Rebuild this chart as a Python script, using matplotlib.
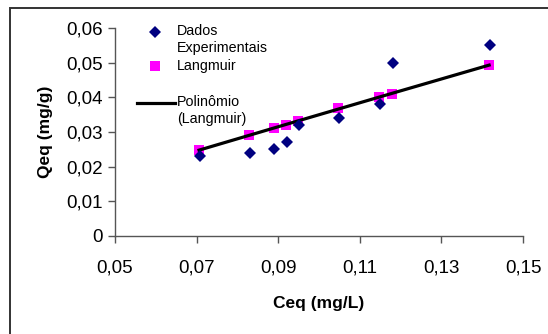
import numpy as np
import matplotlib
matplotlib.use("Agg")
import matplotlib.pyplot as plt
from matplotlib.patches import Rectangle
from matplotlib.lines import Line2D
from matplotlib.ticker import FuncFormatter

plt.rcParams['font.family'] = ['Liberation Sans', 'DejaVu Sans']

# Data
ceq_exp = [0.0708, 0.0831, 0.0890, 0.0922, 0.0951, 0.1049, 0.1150, 0.1181, 0.1419]
qeq_exp = [0.023, 0.024, 0.025, 0.027, 0.032, 0.034, 0.038, 0.050, 0.055]
ceq_lang = [0.0706, 0.0829, 0.0890, 0.0919, 0.0949, 0.1047, 0.1147, 0.1179, 0.1417]
qeq_lang = [0.0248, 0.0291, 0.0311, 0.0320, 0.0332, 0.0369, 0.0401, 0.0410, 0.0493]
x_ticks = [0.05, 0.07, 0.09, 0.11, 0.13, 0.15]
y_ticks = [0, 0.01, 0.02, 0.03, 0.04, 0.05, 0.06]

W, H = 548, 334
fig = plt.figure(figsize=(W / 100, H / 100), dpi=100)
ax = fig.add_axes([115 / W, 1 - 236 / H, (523 - 115) / W, (236 - 28) / H])

# outer frame
fig.patches.append(Rectangle((10 / W, -0.05), 1.1, 1 - 8.5 / H + 0.05, transform=fig.transFigure,
                             fill=False, edgecolor='#333333', linewidth=1.4, clip_on=False))

# trendline (polynomial through Langmuir points)
coef = np.polyfit(ceq_lang, qeq_lang, 2)
xs = np.linspace(min(ceq_lang), max(ceq_lang), 200)
ax.plot(xs, np.polyval(coef, xs), color='black', lw=2.3, zorder=3)

ax.plot(ceq_lang, qeq_lang, linestyle='none', marker='s', markersize=6.8,
        color='#FF00FF', markeredgewidth=0, zorder=2)
ax.plot(ceq_exp, qeq_exp, linestyle='none', marker='D', markersize=6.5,
        color='#000080', markeredgewidth=0, zorder=4)

ax.set_xlim(0.05, 0.15)
ax.set_ylim(0, 0.06)
ax.set_xticks(x_ticks)
ax.set_yticks(y_ticks)
fmt = FuncFormatter(lambda v, p: ('0' if abs(v) < 1e-12 else f'{v:.2f}'.replace('.', ',')))
ax.xaxis.set_major_formatter(fmt)
ax.yaxis.set_major_formatter(fmt)
for s in ['top', 'right']:
    ax.spines[s].set_visible(False)
for s in ['left', 'bottom']:
    ax.spines[s].set_color('#555555')
    ax.spines[s].set_linewidth(1.0)
ax.tick_params(axis='both', direction='out', length=5, width=1.0, color='#555555',
               labelsize=13.5, labelcolor='black')
ax.tick_params(axis='x', pad=12)
ax.tick_params(axis='y', pad=4)

ax.set_xlabel('Ceq (mg/L)', fontsize=12.5, fontweight='bold', labelpad=14)
ax.set_ylabel('Qeq (mg/g)', fontsize=12.5, fontweight='bold', labelpad=9)

# legend (manual, Excel-like)
def fx(px):
    return px / W
def fy(py):
    return 1 - py / H
fs = 10.3
fig.add_artist(Line2D([fx(155)], [fy(32)], marker='D', markersize=6.5, color='#000080',
                      markeredgewidth=0, linestyle='none'))
fig.text(fx(177), fy(31), 'Dados', fontsize=fs, va='center', ha='left')
fig.text(fx(177), fy(48), 'Experimentais', fontsize=fs, va='center', ha='left')
fig.add_artist(Line2D([fx(155)], [fy(66)], marker='s', markersize=6.8, color='#FF00FF',
                      markeredgewidth=0, linestyle='none'))
fig.text(fx(177), fy(66), 'Langmuir', fontsize=fs, va='center', ha='left')
fig.add_artist(Line2D([fx(137), fx(175)], [fy(103), fy(103)], color='black', lw=2.3))
fig.text(fx(177), fy(102), 'Polinômio', fontsize=fs, va='center', ha='left')
fig.text(fx(177), fy(119), '(Langmuir)', fontsize=fs, va='center', ha='left')

fig.savefig('out.png', dpi=100)
